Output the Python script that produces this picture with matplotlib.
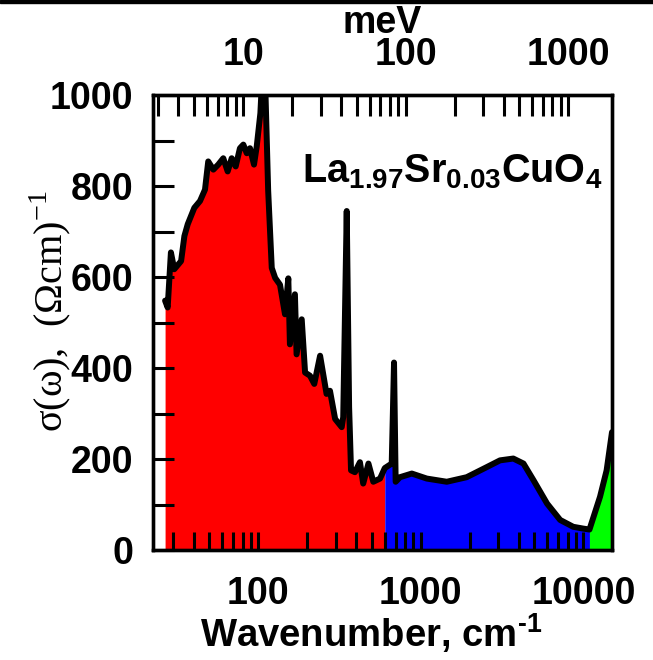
import matplotlib
matplotlib.use('Agg')
import matplotlib.pyplot as plt
from matplotlib.ticker import FixedLocator, NullFormatter, FuncFormatter, LogLocator
from matplotlib.patches import Rectangle
import numpy as np

# optical conductivity: wavenumber (cm^-1) and sigma (Ohm cm)^-1
wavenumber = [26.7, 27.7, 29.0, 30.4, 33.5, 35.1, 36.8, 40.4, 43.8, 47.0,
              49.2, 52.9, 56.7, 60.9, 64.8, 68.6, 72.6, 77.1, 80.9, 84.9,
              88.9, 94.1, 97.8, 103, 107, 110, 115, 121, 127, 136,
              146, 153, 156.5, 168, 172, 185, 194, 208, 221, 240,
              263, 276, 297, 326, 333, 350, 362, 372, 393, 422,
              442, 476, 510, 561, 600, 662, 684, 700, 744, 880,
              1088, 1444, 1914, 2538, 3070, 3706, 4280, 4940, 5980, 7200,
              8660, 10000, 10900, 12660, 13900, 15000]
sigma = [548, 533, 654, 617, 635, 690, 716, 752, 767, 792,
         854, 836, 847, 861, 832, 861, 843, 883, 891, 872,
         883, 847, 887, 960, 1080, 1040, 790, 620, 598, 583,
         518, 597, 452, 562, 430, 507, 390, 383, 365, 427,
         343, 350, 288, 270, 292, 745, 314, 175, 171, 193,
         146, 190, 150, 157, 180, 190, 412, 150, 160, 168,
         157, 150, 160, 182, 197, 201, 190, 153, 102, 66,
         51, 47, 45, 117, 175, 259]

# spectral ranges shaded under the curve
ranges = [(0, 600), (600, 10900), (10900, 20000)]
range_colors = ['#ff0000', '#0000ff', '#00ff00']

x_ticks = [100, 1000, 10000]
mev_ticks = [10, 100, 1000]
y_ticks = [0, 200, 400, 600, 800, 1000]
CM_PER_MEV = 8.0655

plt.rcParams['font.family'] = ['Liberation Sans', 'DejaVu Sans']
plt.rcParams['font.weight'] = 'bold'
plt.rcParams['axes.labelweight'] = 'bold'

W, H = 653, 660
fig = plt.figure(figsize=(W / 100, H / 100), dpi=100)
fig.patches.append(Rectangle((0, 1 - 3 / H), 1, 3 / H, transform=fig.transFigure,
                             color='black', zorder=10))

left, right, top, bottom = 153, 612, 95, 550
ax = fig.add_axes([left / W, 1 - bottom / H, (right - left) / W, (bottom - top) / H])

x = np.array(wavenumber)
y = np.array(sigma)
for (lo, hi), c in zip(ranges, range_colors):
    m = (x >= lo) & (x <= hi)
    ax.fill_between(x[m], 0, y[m], color=c, lw=0, zorder=1)
ax.plot(x, y, color='black', lw=4.3, solid_joinstyle='round',
        solid_capstyle='round', zorder=3)

ax.set_xscale('log')
ax.set_xlim(22.5, 15000)
ax.set_ylim(0, 1000)

fs = 27
ax.xaxis.set_major_locator(FixedLocator(x_ticks))
ax.xaxis.set_minor_locator(LogLocator(base=10, subs=np.arange(2, 10)))
ax.xaxis.set_major_formatter(FuncFormatter(lambda v, p: f'{v:.0f}'))
ax.xaxis.set_minor_formatter(NullFormatter())
ax.yaxis.set_major_locator(FixedLocator(y_ticks))
ax.yaxis.set_minor_locator(FixedLocator(range(100, 1000, 200)))

ax.tick_params(axis='x', which='both', direction='in', length=13, width=2.2,
               top=False, pad=19, labelsize=fs)
ax.tick_params(axis='y', which='both', direction='in', length=15, width=2.2,
               right=False, pad=14, labelsize=fs)
for s in ax.spines.values():
    s.set_linewidth(2.4)

ax.set_xlabel('Wavenumber, cm$^{\\mathdefault{\u2010 1}}$', fontsize=27.5, va='baseline')
ax.xaxis.set_label_coords((371 - left) / (right - left), -(647 - bottom) / (bottom - top))
ax.set_ylabel(r'σ(ω),  (Ωcm)$^{\mathdefault{-1}}$', fontsize=29,
              fontfamily='Liberation Serif', fontweight='normal')
ax.yaxis.set_label_coords((73 - left) / (right - left), 0.525)

ax.text(186, 809, r'La$_{\mathdefault{1.97}}$Sr$_{\mathdefault{0.03}}$CuO$_{\mathdefault{4}}$',
        fontsize=28.5, fontweight='bold', ha='left', va='baseline', zorder=4)

# top axis in meV
ax2 = ax.twiny()
ax2.set_xscale('log')
ax2.set_xlim(22.5 / CM_PER_MEV, 15000 / CM_PER_MEV)
ax2.xaxis.set_major_locator(FixedLocator(mev_ticks))
ax2.xaxis.set_minor_locator(LogLocator(base=10, subs=np.arange(2, 10)))
ax2.xaxis.set_major_formatter(FuncFormatter(lambda v, p: f'{v:.0f}'))
ax2.xaxis.set_minor_formatter(NullFormatter())
ax2.tick_params(axis='x', which='both', direction='in', length=15, width=2.2,
                pad=16, labelsize=fs)
ax2.set_xlabel('meV', fontsize=27, labelpad=3)
for s in ax2.spines.values():
    s.set_linewidth(2.4)

fig.savefig('out.png', dpi=100)
